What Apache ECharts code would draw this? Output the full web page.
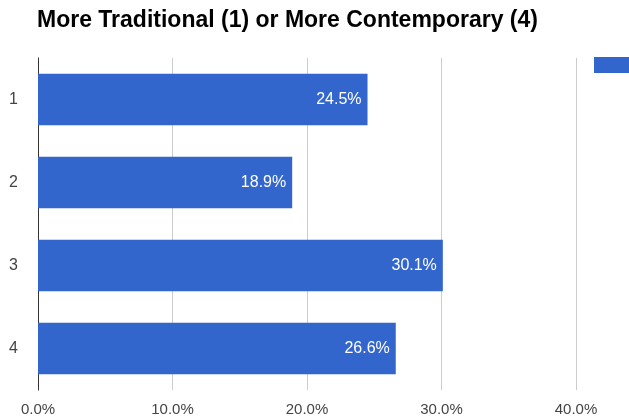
<!DOCTYPE html>
<html>
<head>
<meta charset="utf-8">
<script src="https://cdn.jsdelivr.net/npm/echarts@6/dist/echarts.min.js"></script>
<style>
  html, body { margin: 0; padding: 0; background: #fff; }
  #chart { width: 629px; height: 418px; }
</style>
</head>
<body>
<div id="chart"></div>
<script>
// Share of responses per rating, 1 = more traditional, 4 = more contemporary
const categories = ['1', '2', '3', '4'];
const shares = [0.245, 0.189, 0.301, 0.266];
const xTicks = [0, 0.1, 0.2, 0.3, 0.4];
const chartTitle = 'More Traditional (1) or More Contemporary (4)';
const seriesName = ' ';

const FONT = 'Liberation Sans, Arial, sans-serif';
const pct = v => (v * 100).toFixed(1) + '%';

const chart = echarts.init(document.getElementById('chart'), null, { renderer: 'canvas' });
chart.setOption({
  animation: false,
  title: {
    text: chartTitle,
    left: 32,
    top: 4,
    textStyle: { fontFamily: FONT, fontSize: 23, fontWeight: 'bold', color: '#000' }
  },
  legend: {
    left: 589,
    top: 52,
    icon: 'rect',
    itemWidth: 36,
    itemHeight: 16,
    itemGap: 0,
    data: [seriesName],
    textStyle: { fontSize: 12, color: '#222' }
  },
  grid: { left: 38, right: 53, top: 58, bottom: 28, containLabel: false },
  xAxis: {
    type: 'value',
    min: xTicks[0],
    max: xTicks[xTicks.length - 1],
    interval: 0.1,
    axisLine: { show: false },
    axisTick: { show: false },
    splitLine: { lineStyle: { color: '#cccccc', width: 1 } },
    axisLabel: {
      formatter: v => pct(v),
      color: '#444',
      fontSize: 15,
      margin: 12,
      fontFamily: FONT
    }
  },
  yAxis: {
    type: 'category',
    data: categories,
    inverse: true,
    axisLine: { show: true, lineStyle: { color: '#333', width: 1 } },
    axisTick: { show: false },
    axisLabel: { color: '#444', fontSize: 16, margin: 20, fontFamily: FONT }
  },
  series: [{
    name: seriesName,
    type: 'bar',
    data: shares,
    barCategoryGap: '38%',
    itemStyle: { color: '#3366cc' },
    label: {
      show: true,
      position: 'insideRight',
      distance: 6,
      formatter: p => pct(p.value),
      color: '#fff',
      fontSize: 16,
      fontFamily: FONT
    }
  }]
});
</script>
</body>
</html>
